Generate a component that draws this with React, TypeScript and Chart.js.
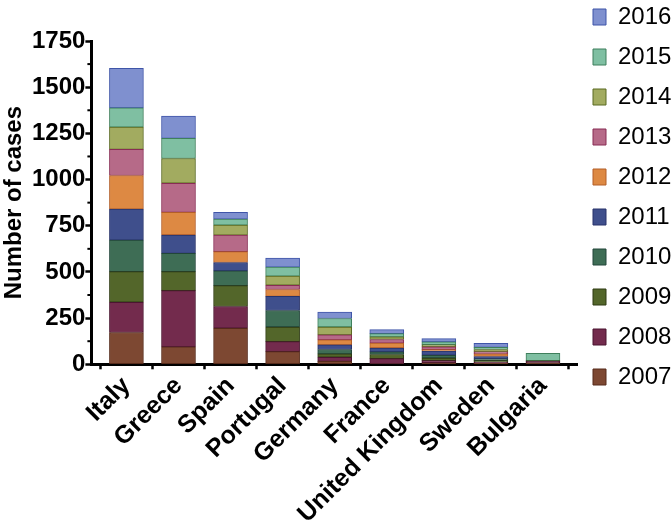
import React, { useEffect, useRef } from 'react';
import { Chart, registerables } from 'chart.js';

Chart.register(...registerables);

const countries = ['Italy', 'Greece', 'Spain', 'Portugal', 'Germany', 'France', 'United Kingdom', 'Sweden', 'Bulgaria'];
const years = ['2007', '2008', '2009', '2010', '2011', '2012', '2013', '2014', '2015', '2016'];

const cases2007 = [172, 94, 195, 69, 16, 3, 8, 5, 8];
const cases2008 = [164, 305, 118, 54, 22, 28, 12, 7, 8];
const cases2009 = [166, 103, 113, 79, 18, 22, 14, 8, 4];
const cases2010 = [170, 98, 80, 89, 24, 14, 15, 9, 0];
const cases2011 = [168, 100, 45, 77, 25, 21, 23, 13, 0];
const cases2012 = [182, 122, 59, 37, 27, 27, 7, 14, 0];
const cases2013 = [141, 158, 89, 23, 27, 19, 15, 11, 0];
const cases2014 = [121, 134, 54, 49, 43, 14, 12, 13, 0];
const cases2015 = [104, 109, 33, 49, 46, 18, 15, 12, 40];
const cases2016 = [214, 120, 37, 49, 34, 22, 18, 22, 0];

const yMax = 1750;
const yStep = 250;

const fills = ['#7d4832', '#732b4d', '#53662a', '#3e6d55', '#3f4f8c', '#dd8943', '#b66a88', '#a2ab60', '#7fbfa2', '#7f90cf'];
const borders = ['#562a1a', '#4b1530', '#2e3b12', '#22463a', '#28336a', '#b35e28', '#882d54', '#5b6a22', '#3f7f5c', '#3f55a8'];

const minorTicks = {
  id: 'minorTicks',
  afterDraw(chart: any) {
    const s = chart.scales.y;
    const ctx = chart.ctx;
    ctx.save();
    ctx.strokeStyle = '#000';
    ctx.lineWidth = 2;
    for (let v = yStep / 2; v < yMax; v += yStep) {
      const p = s.getPixelForValue(v);
      ctx.beginPath();
      ctx.moveTo(s.right - 4, p);
      ctx.lineTo(s.right, p);
      ctx.stroke();
    }
    ctx.restore();
  },
};

const legendFix = {
  id: 'legendFix',
  beforeLayout(chart: any) {
    const lg = chart.legend;
    if (lg && !lg.__fixed) {
      const orig = lg.fit;
      lg.fit = function () {
        orig.call(this);
        this.width = 95;
      };
      lg.__fixed = true;
    }
  },
  afterLayout(chart: any) {
    const lg = chart.legend;
    if (lg) lg.top = -11;
  },
};

export default function App() {
  const ref = useRef<HTMLCanvasElement>(null);
  useEffect(() => {
    const canvas = ref.current;
    if (!canvas) return;
    Chart.defaults.font.family = 'Arial, "Liberation Sans", sans-serif';
    Chart.defaults.color = '#000';
    const series = [cases2007, cases2008, cases2009, cases2010, cases2011, cases2012, cases2013, cases2014, cases2015, cases2016];
    const datasets = years.map((yr, k) => ({
      label: yr,
      data: countries.map((_, i) => ({ x: i, y: series[k][i] })),
      backgroundColor: fills[k],
      borderColor: borders[k],
      borderWidth: 1,
      borderSkipped: false,
      stack: 'all',
      barThickness: 34,
    }));
    const chart = new Chart(canvas, {
      type: 'bar',
      data: { datasets } as any,
      options: {
        animation: false,
        responsive: true,
        maintainAspectRatio: false,
        layout: { padding: { top: 41, bottom: -2, left: 0, right: 0 } },
        plugins: {
          legend: {
            position: 'right',
            align: 'start',
            reverse: true,
            labels: {
              boxWidth: 13,
              boxHeight: 16,
              padding: 16,
              color: '#000',
              font: { size: 24 },
            },
          },
          tooltip: { enabled: false },
        },
        scales: {
          x: {
            type: 'linear',
            min: -0.673,
            max: 8.654,
            offset: false,
            grid: { display: true, drawOnChartArea: false, drawTicks: true, tickLength: 5, tickWidth: 2.5, tickColor: '#000' },
            border: { display: true, width: 3, color: '#000' },
            ticks: {
              stepSize: 1,
              includeBounds: false,
              autoSkip: false,
              minRotation: 45,
              maxRotation: 45,
              padding: 2,
              color: '#000',
              font: { size: 25, weight: 'bold' },
              callback: (v: any) => countries[v] ?? '',
            },
            afterBuildTicks: (axis: any) => {
              axis.ticks = axis.ticks.filter((t: any) => Number.isInteger(t.value) && t.value >= 0 && t.value < countries.length);
            },
          } as any,
          y: {
            stacked: true,
            min: 0,
            max: yMax,
            grid: { display: true, drawOnChartArea: false, drawTicks: true, tickLength: 6, tickWidth: 2.5, tickColor: '#000' },
            border: { display: true, width: 3, color: '#000' },
            ticks: { stepSize: yStep, padding: 0, color: '#000', font: { size: 24, weight: 'bold' }, callback: (v: any) => String(v) },
            title: {
              display: true,
              text: 'Number of cases',
              color: '#000',
              font: { size: 24, weight: 'bold', lineHeight: 1 },
              padding: { top: 2, bottom: 6 },
            },
          },
        },
      },
      plugins: [minorTicks, legendFix],
    });
    return () => chart.destroy();
  }, []);
  return (
    <div style={{ position: 'fixed', left: 0, top: 0, width: 672, height: 529 }}>
      <canvas ref={ref} />
    </div>
  );
}
